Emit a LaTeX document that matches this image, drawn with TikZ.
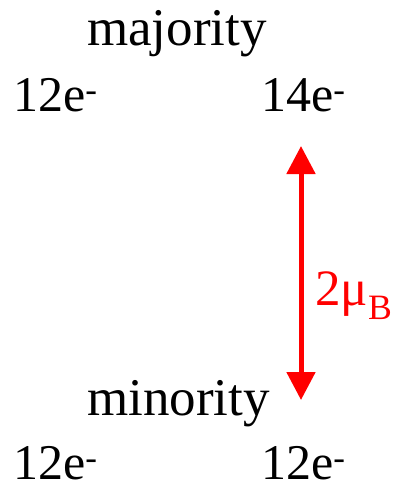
\documentclass[tikz,border=0pt]{standalone}
\usepackage{fontspec}
\setmainfont{Liberation Serif}
\usetikzlibrary{arrows.meta,positioning}

\begin{document}
\begin{tikzpicture}[
    x=1pt, y=-1pt,
    spin/.style={inner sep=0pt, anchor=base west, font=\fontsize{53}{60}\selectfont},
    count/.style={inner sep=0pt, anchor=base west, font=\fontsize{50}{58}\selectfont},
    moment/.style={inner sep=0pt, anchor=base west, text=red, font=\fontsize{51}{58}\selectfont},
    gap/.style={draw=red, line width=5pt, {Triangle[width=28pt,length=28pt]}-{Triangle[width=28pt,length=28pt]}}
]
\useasboundingbox (0,0) rectangle (395,483);

% Nodes
\node[spin] (maj) at (87,45) {majority};
\node[count] (majl) at (13,111) {12e\textsuperscript{-}};
\node[count] (majr) at (261,111) {14e\textsuperscript{-}};

\node[spin] (min) at (87,415) {minority};
\node[count] (minl) at (13,479) {12e\textsuperscript{-}};
\node[count] (minr) at (261,479) {12e\textsuperscript{-}};

\coordinate (up) at (301,146);
\coordinate (down) at (301,400);
\node[moment] (mu) at (315,305) {2μ\textsubscript{B}};

% Connections
\draw[gap] (up) -- (down);

\end{tikzpicture}
\end{document}
